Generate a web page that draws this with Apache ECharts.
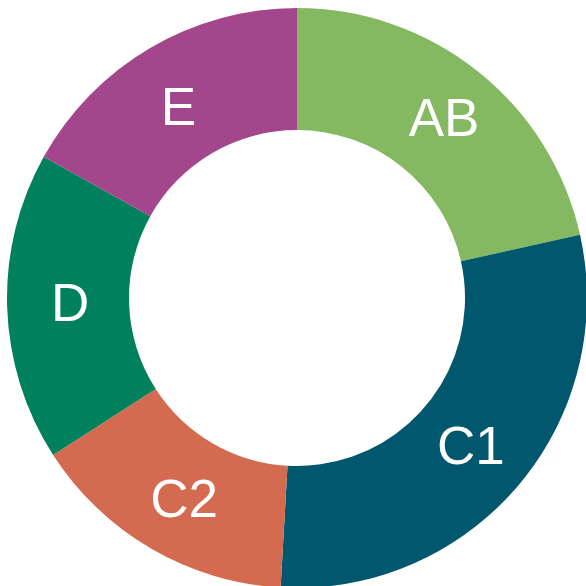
<!DOCTYPE html>
<html>
<head>
<meta charset="utf-8">
<script src="https://cdn.jsdelivr.net/npm/echarts@6/dist/echarts.min.js"></script>
<style>
html, body { margin: 0; padding: 0; background: #fff; }
#chart { width: 586px; height: 586px; }
</style>
</head>
<body>
<div id="chart"></div>
<script>
// 分组名称与占比（顺时针，从12点开始）
var categories = ['AB', 'C1', 'C2', 'D', 'E'];
var values = [21.5, 29.4, 15.0, 17.2, 16.9];
var colors = ['#84b962', '#00576e', '#d46b51', '#00805c', '#a4468c'];

// 标签微调（像素）
var labelNudge = [[2, 4], [-3, 1], [4, 4], [5, 1], [-1, 12]];

var chart = echarts.init(document.getElementById('chart'));

var pieData = [];
for (var i = 0; i < categories.length; i++) {
    pieData.push({
        name: categories[i],
        value: values[i],
        itemStyle: { color: colors[i] }
    });
}

var option = {
    animation: false,
    series: [
        {
            type: 'pie',
            center: [297, 298],
            radius: [168, 290],
            startAngle: 90,
            clockwise: true,
            avoidLabelOverlap: false,
            label: {
                show: true,
                position: 'inside',
                formatter: '{b}',
                color: '#fff',
                fontSize: 53,
                fontFamily: 'Liberation Sans, Arial, sans-serif'
            },
            labelLayout: function (params) {
                var n = labelNudge[params.dataIndex];
                return { dx: n[0], dy: n[1] };
            },
            labelLine: { show: false },
            itemStyle: { borderWidth: 0 },
            emphasis: { disabled: true },
            data: pieData
        }
    ]
};
chart.setOption(option);
</script>
</body>
</html>
